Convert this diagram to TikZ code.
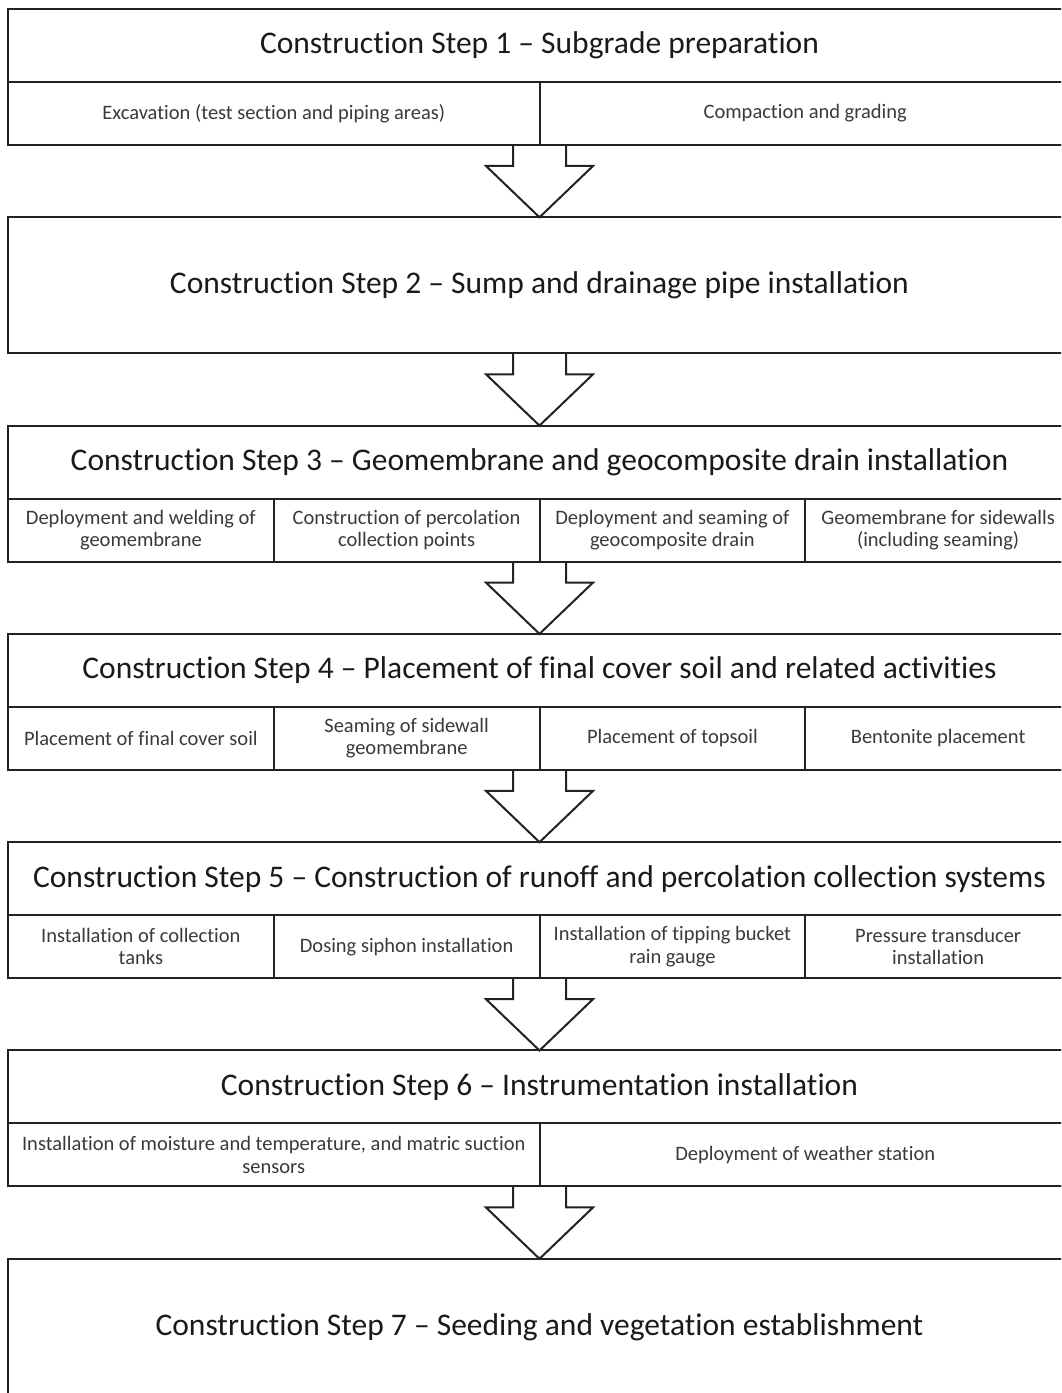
\documentclass[tikz,border=0pt]{standalone}
\usepackage{fontspec}
\setmainfont{Carlito}[Ligatures={TeX,NoCommon}]
\usetikzlibrary{positioning,calc}
\definecolor{linec}{HTML}{222222}
\definecolor{headc}{HTML}{1A1A1A}
\definecolor{subc}{HTML}{3A3A3A}
\tikzset{
  stepbox/.style={draw=linec, line width=2pt, minimum width=1063pt, minimum height=136pt, inner sep=0pt, outer sep=0pt},
  headtext/.style={font=\fontsize{31.5}{38}\selectfont, text=headc, anchor=base},
  cell/.style={draw=linec, line width=2pt, minimum height=63pt, inner sep=0pt, outer sep=0pt, align=center, text=subc, font=\fontsize{20.5}{22.5}\selectfont},
  halfcell/.style={cell, minimum width=531.5pt},
  quartcell/.style={cell, minimum width=265.75pt},
  blockarrow/.style={draw=linec, line width=2pt, line join=miter},
}
\begin{document}
\begin{tikzpicture}[x=1pt, y=1pt]
  \useasboundingbox (0,0) rectangle (1061,1393);
  \clip (0,0) rectangle (1061,1393);
  \fill[white] (0,0) rectangle (1061,1393);

  % step frames
  \node[stepbox] (s1) at (539.5,1316) {};
  \node[stepbox, below=72.3pt of s1] (s2) {};
  \node[stepbox, below=72.3pt of s2] (s3) {};
  \node[stepbox, below=72.3pt of s3] (s4) {};
  \node[stepbox, below=72.3pt of s4] (s5) {};
  \node[stepbox, below=72.3pt of s5] (s6) {};
  \node[stepbox, below=72.3pt of s6] (s7) {};

  % titles
  \node[headtext] (t1) at ([yshift=-45pt]s1.north) {Construction Step 1 -- Subgrade preparation};
  \node[headtext] (t2) at ([yshift=-76.5pt]s2.north) {Construction Step 2 -- Sump and drainage pipe installation};
  \node[headtext] (t3) at ([yshift=-45pt]s3.north) {Construction Step 3 -- Geomembrane and geocomposite drain installation};
  \node[headtext] (t4) at ([yshift=-45pt]s4.north) {Construction Step 4 -- Placement of final cover soil and related activities};
  \node[headtext] (t5) at ([yshift=-45pt]s5.north) {Construction Step 5 -- Construction of runoff and percolation collection systems};
  \node[headtext] (t6) at ([yshift=-45pt]s6.north) {Construction Step 6 -- Instrumentation installation};
  \node[headtext] (t7) at ([yshift=-76.5pt]s7.north) {Construction Step 7 -- Seeding and vegetation establishment};

  % activities
  \node[halfcell, anchor=south west] (c11) at (s1.south west) {Excavation (test section and piping areas)};
  \node[halfcell, right=0pt of c11] (c12) {Compaction and grading};

  \node[quartcell, anchor=south west] (c31) at (s3.south west) {Deployment and welding of\\geomembrane};
  \node[quartcell, right=0pt of c31] (c32) {Construction of percolation\\collection points};
  \node[quartcell, right=0pt of c32] (c33) {Deployment and seaming of\\geocomposite drain};
  \node[quartcell, right=0pt of c33] (c34) {Geomembrane for sidewalls\\(including seaming)};

  \node[quartcell, anchor=south west] (c41) at (s4.south west) {Placement of final cover soil};
  \node[quartcell, right=0pt of c41] (c42) {Seaming of sidewall\\geomembrane};
  \node[quartcell, right=0pt of c42] (c43) {Placement of topsoil};
  \node[quartcell, right=0pt of c43] (c44) {Bentonite placement};

  \node[quartcell, anchor=south west] (c51) at (s5.south west) {Installation of collection\\tanks};
  \node[quartcell, right=0pt of c51] (c52) {Dosing siphon installation};
  \node[quartcell, right=0pt of c52] (c53) {Installation of tipping bucket\\rain gauge};
  \node[quartcell, right=0pt of c53] (c54) {Pressure transducer\\installation};

  \node[halfcell, anchor=south west] (c61) at (s6.south west) {Installation of moisture and temperature, and matric suction\\sensors};
  \node[halfcell, right=0pt of c61] (c62) {Deployment of weather station};

  % block arrows
  \foreach \a/\b in {s1/s2,s2/s3,s3/s4,s4/s5,s5/s6,s6/s7}
    \draw[blockarrow] ($(\a.south)+(-26.5,0)$) -- ++(0,-21) -- ++(-27,0) -- (\b.north)
      -- ($(\a.south)+(53.5,-21)$) -- ++(-27,0) -- ++(0,21);
\end{tikzpicture}
\end{document}
